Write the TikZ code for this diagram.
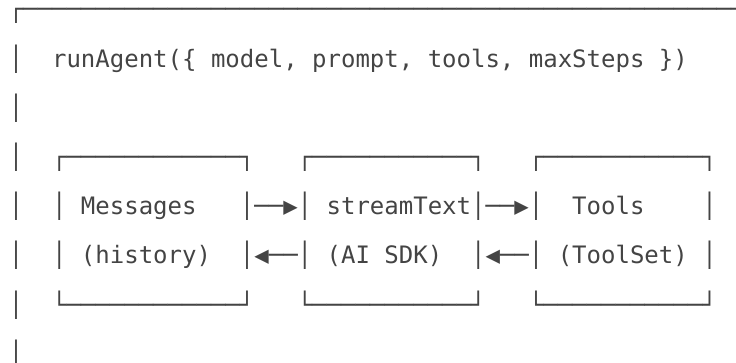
\documentclass[tikz,border=0pt]{standalone}
\usepackage{fontspec}
\newfontfamily\asciifont{DejaVu Sans Mono}
\definecolor{ink}{HTML}{444444}
\begin{document}
\begin{tikzpicture}[x=1pt,y=-1pt,
  row/.style={anchor=base west, inner sep=0pt, outer sep=0pt, text=ink,
    font=\asciifont\fontsize{24}{24}\selectfont}]
\clip (0,0) rectangle (736,362);
\useasboundingbox (0,0) rectangle (736,362);
\node[row] (r0) at (8.76,17.8) {┌───────────────────────────────────────────────────};
\node[row] (r1) at (8.76,67.0) {│~~runAgent(\{~model,~prompt,~tools,~maxSteps~\})};
\node[row] (r2) at (8.76,116.2) {│};
\node[row] (r3) at (8.76,165.4) {│~~┌────────────┐~~~┌───────────┐~~~┌───────────┐};
\node[row] (r4) at (8.76,214.6) {│~~│~Messages~~~│──▶│~streamText│──▶│~~Tools~~~~│};
\node[row] (r5) at (8.76,263.8) {│~~│~(history)~~│◀──│~(AI~SDK)~~│◀──│~(ToolSet)~│};
\node[row] (r6) at (8.76,313.0) {│~~└────────────┘~~~└───────────┘~~~└───────────┘};
\node[row] (r7) at (8.76,362.2) {│};
\end{tikzpicture}
\end{document}
